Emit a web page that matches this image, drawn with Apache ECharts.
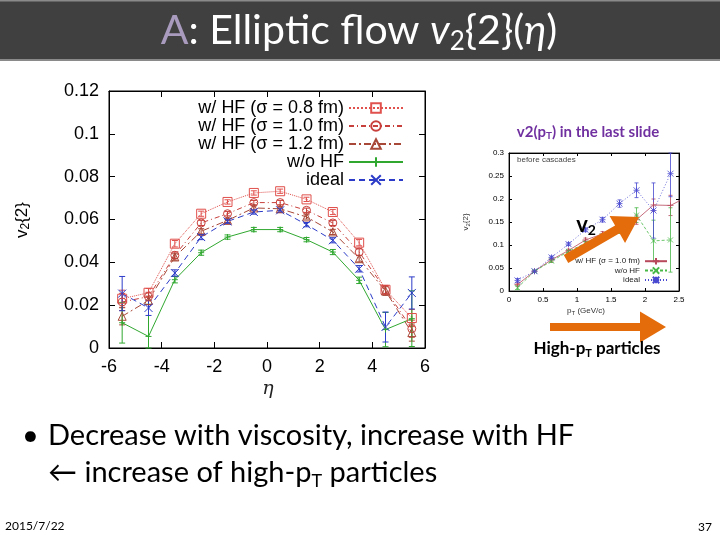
<!DOCTYPE html>
<html><head><meta charset="utf-8">
<script src="https://cdn.jsdelivr.net/npm/echarts@6/dist/echarts.min.js"></script>
<style>html,body{margin:0;padding:0;background:#fff}#c{width:720px;height:540px}</style>
</head><body><div id="c"></div>
<script>
// ---- main chart: v2{2} vs eta ----
const eta = [-5.5,-4.5,-3.5,-2.5,-1.5,-0.5,0.5,1.5,2.5,3.5,4.5,5.5];
const hf08   = [0.0230,0.0258,0.0487,0.0627,0.0682,0.0724,0.0732,0.0694,0.0635,0.0492,0.0272,0.0140];
const hf10   = [0.0215,0.0240,0.0433,0.0584,0.0627,0.0679,0.0679,0.0643,0.0584,0.0448,0.0272,0.0090];
const hf12   = [0.0148,0.0222,0.0425,0.0545,0.0596,0.0654,0.0650,0.0612,0.0542,0.0417,0.0266,0.0072];
const noHF   = [0.0118,0.0054,0.0319,0.0445,0.0518,0.0553,0.0553,0.0506,0.0448,0.0316,0.0086,0.0137];
const ideal  = [0.0254,0.0187,0.0350,0.0518,0.0591,0.0635,0.0643,0.0576,0.0503,0.0370,0.0098,0.0257];
const hf08Err  = [0.004,0.002,0.0015,0.0012,0.001,0.001,0.001,0.001,0.0012,0.0015,0.002,0.004];
const hf10Err  = [0.004,0.002,0.0015,0.0012,0.001,0.001,0.001,0.001,0.0012,0.0015,0.002,0.004];
const hf12Err  = [0.004,0.002,0.0015,0.0012,0.001,0.001,0.001,0.001,0.0012,0.0015,0.002,0.004];
const noHFErr  = [0.0095,0.015,0.0015,0.0012,0.001,0.001,0.001,0.001,0.0012,0.0015,0.008,0.013];
const idealErr = [0.008,0.0035,0.0015,0.0012,0.001,0.001,0.001,0.001,0.0012,0.0015,0.007,0.0075];
const mainNames = ['w/ HF (\u03c3 = 0.8 fm)','w/ HF (\u03c3 = 1.0 fm)','w/ HF (\u03c3 = 1.2 fm)','w/o HF','ideal'];
const etaTicks = {min:-6, max:6, step:2};
const v2Ticks = {min:0, max:0.12, step:0.02};

// ---- inset: v2(pT) ----
const pt = [0.125,0.375,0.625,0.875,1.125,1.375,1.625,1.875,2.125,2.375,2.625];
const inHF    = [0.014,0.043,0.068,0.088,0.111,0.124,0.137,0.155,0.187,0.186,0.205];
const inNoHF  = [0.007,0.043,0.065,0.086,0.104,0.119,0.133,0.165,0.109,0.111,null];
const inIdeal = [0.023,0.043,0.073,0.102,0.133,0.155,0.190,0.219,0.175,0.255,null];
const inHFErr    = [0.003,0.002,0.003,0.003,0.004,0.005,0.006,0.010,0.013,0.022,0];
const inNoHFErr  = [0.004,0.002,0.003,0.003,0.004,0.005,0.008,0.016,0.045,0.07,0];
const inIdealErr = [0.004,0.002,0.003,0.003,0.004,0.005,0.008,0.016,0.06,0.05,0];
const inNames = ['w/ HF (\u03c3 = 1.0 fm)','w/o HF','ideal'];
const ptTicks = {min:0, max:2.5, step:0.5};
const inV2Ticks = {min:0, max:0.3, step:0.05};

const FONT = 'Liberation Sans';
const SLIDE = 'Lato';

function pairs(xs, ys){ return xs.map((x,i)=>[x, ys[i]]); }
function errData(xs, ys, es){ return xs.map((x,i)=>[x, ys[i], es[i]]).filter(d=>d[1]!=null && d[2]>0); }
function errSeries(xi, yi, data, color, capW, yMax, lw){
  return {type:'custom', xAxisIndex:xi, yAxisIndex:yi, data:data, silent:true, z:3,
    renderItem:function(params, api){
      const x=api.value(0), y=api.value(1), e=api.value(2);
      const lo=api.coord([x, Math.max(0, y-e)]), hi=api.coord([x, Math.min(yMax, y+e)]);
      const st={stroke:color, lineWidth:lw};
      return {type:'group', children:[
        {type:'line', shape:{x1:lo[0],y1:lo[1],x2:hi[0],y2:hi[1]}, style:st},
        {type:'line', shape:{x1:lo[0]-capW,y1:lo[1],x2:lo[0]+capW,y2:lo[1]}, style:st},
        {type:'line', shape:{x1:hi[0]-capW,y1:hi[1],x2:hi[0]+capW,y2:hi[1]}, style:st}
      ]};
    }};
}
const X_PATH = 'path://M0,0L10,10M10,0L0,10';
const PLUS_PATH = 'path://M0,5L10,5M5,0L5,10';
const STAR_PATH = 'path://M0,0L10,10M10,0L0,10M0,5L10,5M5,0L5,10';

function arrowPts(x1,y1,x2,y2,sw,hl,hw){
  const dx=x2-x1, dy=y2-y1, L=Math.hypot(dx,dy), ux=dx/L, uy=dy/L, nx=-uy, ny=ux;
  const bx=x2-ux*hl, by=y2-uy*hl;
  return [[x1+nx*sw/2,y1+ny*sw/2],[bx+nx*sw/2,by+ny*sw/2],[bx+nx*hw/2,by+ny*hw/2],[x2,y2],
          [bx-nx*hw/2,by-ny*hw/2],[bx-nx*sw/2,by-ny*sw/2],[x1-nx*sw/2,y1-ny*sw/2]];
}

const C08='#e0504c', C10='#c8403c', C12='#a84838', CG='#30a830', CB='#2c3cc8';
const IC1='#b8485c', IC2='#48b848', IC3='#4848d0';

function axisPair(gi, pos, ticks, labels, fs, tickLen){
  return {type:'value', gridIndex:gi, position:pos, min:ticks.min, max:ticks.max, interval:ticks.step,
    axisLine:{show:true, onZero:false, lineStyle:{color:'#000', width:1}},
    axisTick:{show:true, inside:true, length:tickLen, lineStyle:{color:'#000'}},
    axisLabel:{show:labels, fontSize:fs, fontFamily:FONT, color:'#000', margin: fs>10?10:5},
    splitLine:{show:false}};
}

const mainSeriesDefs = [
  {name:mainNames[0], data:hf08, err:hf08Err, color:C08, lt:'dotted', sym:'rect', ss:9, hollow:true},
  {name:mainNames[1], data:hf10, err:hf10Err, color:C10, lt:[5,3,1,3], sym:'circle', ss:8, hollow:true},
  {name:mainNames[2], data:hf12, err:hf12Err, color:C12, lt:[7,3,2,3], sym:'triangle', ss:8, hollow:true},
  {name:mainNames[3], data:noHF, err:noHFErr, color:CG, lt:'solid', sym:PLUS_PATH, ss:6, hollow:false},
  {name:mainNames[4], data:ideal, err:idealErr, color:CB, lt:[6,4], sym:X_PATH, ss:8, hollow:false}
];
const inSeriesDefs = [
  {name:'in:'+inNames[0], data:inHF, err:inHFErr, color:IC1, lt:'solid', sym:PLUS_PATH, ss:6},
  {name:'in:'+inNames[1], data:inNoHF, err:inNoHFErr, color:IC2, lt:[3,2], sym:X_PATH, ss:5},
  {name:'in:'+inNames[2], data:inIdeal, err:inIdealErr, color:IC3, lt:[1,2], sym:STAR_PATH, ss:6}
];

const series = [];
mainSeriesDefs.forEach(d=>{
  series.push({type:'line', name:d.name, xAxisIndex:0, yAxisIndex:0, data:pairs(eta,d.data),
    symbol:d.sym, symbolSize:d.ss, showAllSymbol:true, z:4,
    lineStyle:{color:d.color, width:1, type:d.lt},
    itemStyle:{color:d.hollow?'rgba(255,255,255,0)':d.color, borderColor:d.color, borderWidth:1}});
  series.push(errSeries(0,0,errData(eta,d.data,d.err), d.color, 3, v2Ticks.max, 1));
});
inSeriesDefs.forEach(d=>{
  series.push({type:'line', name:d.name, xAxisIndex:2, yAxisIndex:2, data:pairs(pt,d.data),
    symbol:d.sym, symbolSize:d.ss, showAllSymbol:true, connectNulls:false, z:4, clip:true,
    lineStyle:{color:d.color, width:0.8, type:d.lt},
    itemStyle:{color:d.color, borderColor:d.color, borderWidth:0.8}});
  series.push(errSeries(2,2,errData(pt,d.data,d.err), d.color, 2, inV2Ticks.max, 0.8));
});

const arrowColor = '#e46c0a';
const TS = 41;
const graphics = [
  {type:'rect', shape:{x:0,y:0,width:720,height:61}, style:{fill:'#404040'}, z:1},
  {type:'rect', shape:{x:0,y:59,width:720,height:2}, style:{fill:'#8a8a8a'}, z:1},
  {type:'rect', shape:{x:0,y:0,width:720,height:1.5}, style:{fill:'#8a8a8a'}, z:1},
  {type:'text', x:359, y:31, z:2, style:{
    text:'{A|A}{w|: Ellip}{w|tic flow }{i|v}{s|2}{2}({i|\u03b7})',
    align:'center', verticalAlign:'middle', textAlign:'center', textVerticalAlign:'middle',
    fill:'#fff', fontSize:TS, fontFamily:SLIDE, lineHeight:48,
    rich:{A:{fill:'#a99bbd',fontSize:TS,fontFamily:SLIDE,lineHeight:48},
          w:{fill:'#fff',fontSize:TS,fontFamily:SLIDE,lineHeight:48},
          i:{fill:'#fff',fontSize:TS,fontFamily:SLIDE,fontStyle:'italic',lineHeight:48},
          s:{fill:'#fff',fontSize:26,fontFamily:SLIDE,lineHeight:24,verticalAlign:'bottom'}}}},
  // main axis titles
  {type:'text', x:22, y:220, rotation:Math.PI/2, z:5, style:{
    text:'{a|v}{s|2}{2}', align:'center', verticalAlign:'middle', textAlign:'center', textVerticalAlign:'middle',
    fill:'#000', fontSize:17, fontFamily:FONT, lineHeight:20,
    rich:{a:{fontSize:17,fontFamily:FONT,fill:'#000',lineHeight:20}, s:{fontSize:12,fontFamily:FONT,fill:'#000',lineHeight:12,verticalAlign:'bottom'}}}},
  {type:'text', x:268, y:389, z:5, style:{text:'\u03b7', align:'center', verticalAlign:'middle', textAlign:'center', textVerticalAlign:'middle', fill:'#222', fontSize:19, fontFamily:'DejaVu Serif', fontStyle:'italic'}},
  // inset labels
  {type:'text', x:588, y:132, z:5, style:{
    text:'{b|v2(p}{s|T}{b|) in the last slide}', align:'center', verticalAlign:'middle', textAlign:'center', textVerticalAlign:'middle',
    fill:'#7030a0', fontSize:15, fontWeight:'bold', fontFamily:SLIDE,
    rich:{b:{fontSize:15,fontWeight:'bold',fontFamily:SLIDE,fill:'#7030a0',lineHeight:18}, s:{fontSize:10,fontWeight:'bold',fontFamily:SLIDE,fill:'#7030a0',lineHeight:10,verticalAlign:'bottom'}}}},
  {type:'text', x:517, y:160, z:5, style:{text:'before cascades', verticalAlign:'middle', textVerticalAlign:'middle', fill:'#444', fontSize:8, fontFamily:FONT}},
  {type:'text', x:466, y:222, rotation:Math.PI/2, z:5, style:{
    text:'{a|v}{s|2}{2}', align:'center', verticalAlign:'middle', textAlign:'center', textVerticalAlign:'middle',
    fill:'#333', fontSize:8, fontFamily:FONT, lineHeight:10,
    rich:{a:{fontSize:8,fontFamily:FONT,fill:'#333',lineHeight:10}, s:{fontSize:6,fontFamily:FONT,fill:'#333',lineHeight:6,verticalAlign:'bottom'}}}},
  {type:'text', x:586, y:311, z:5, style:{
    text:'{a|p}{s|T}{a| (GeV/c)}', align:'center', verticalAlign:'middle', textAlign:'center', textVerticalAlign:'middle',
    fill:'#333', fontSize:8, fontFamily:FONT,
    rich:{a:{fontSize:8,fontFamily:FONT,fill:'#333',lineHeight:10}, s:{fontSize:6,fontFamily:FONT,fill:'#333',lineHeight:6,verticalAlign:'bottom'}}}},
  // arrows
  {type:'polygon', z:50, shape:{points:arrowPts(566,259,639,217,9,25,31)}, style:{fill:arrowColor}},
  {type:'polygon', z:50, shape:{points:arrowPts(550,327,666,327,8,26,31)}, style:{fill:arrowColor}},
  {type:'text', x:586, y:225, z:51, style:{
    text:'{v|v}{s|2}', align:'center', verticalAlign:'middle', textAlign:'center', textVerticalAlign:'middle', fill:'#000',
    rich:{v:{fontSize:22,fontWeight:'bold',fontFamily:SLIDE,fill:'#000',lineHeight:24}, s:{fontSize:14,fontWeight:'bold',fontFamily:SLIDE,fill:'#000',lineHeight:14,verticalAlign:'bottom'}}}},
  {type:'text', x:597, y:349, z:51, style:{
    text:'{b|High-p}{s|T}{b| par}{b|ticles}', align:'center', verticalAlign:'middle', textAlign:'center', textVerticalAlign:'middle', fill:'#000',
    rich:{b:{fontSize:17,fontWeight:'bold',fontFamily:SLIDE,fill:'#000',lineHeight:20}, s:{fontSize:11,fontWeight:'bold',fontFamily:SLIDE,fill:'#000',lineHeight:11,verticalAlign:'bottom'}}}},
  // bullets
  {type:'text', x:22, y:436, z:5, style:{text:'\u2022', verticalAlign:'middle', textVerticalAlign:'middle', fill:'#000', fontSize:29, fontFamily:SLIDE}},
  {type:'text', x:48, y:436, z:5, style:{text:'Decrease with viscosity, increase with HF', verticalAlign:'middle', textVerticalAlign:'middle', fill:'#000', fontSize:29, fontFamily:SLIDE}},
  {type:'text', x:48, y:473, z:5, style:{
    text:'{a|\u2190 increase of high-p}{s|T}{a| par}{a|ticles}', verticalAlign:'middle', textVerticalAlign:'middle', fill:'#000',
    rich:{a:{fontSize:29,fontFamily:SLIDE,fill:'#000',lineHeight:34}, s:{fontSize:18,fontFamily:SLIDE,fill:'#000',lineHeight:16,verticalAlign:'bottom'}}}},
  // footer
  {type:'text', x:5, y:526, z:5, style:{text:'2015/7/22', verticalAlign:'middle', textVerticalAlign:'middle', fill:'#000', fontSize:12, fontFamily:SLIDE}},
  {type:'text', x:712, y:527, z:5, style:{text:'37', align:'right', textAlign:'right', verticalAlign:'middle', textVerticalAlign:'middle', fill:'#000', fontSize:12, fontFamily:SLIDE}}
];

const chart = echarts.init(document.getElementById('c'), null, {renderer:'canvas'});
chart.setOption({
  backgroundColor:'#fff',
  animation:false,
  grid:[
    {left:109, right:295, top:91, bottom:192, show:true, borderColor:'#000', borderWidth:1, backgroundColor:'transparent'},
    {left:509, right:41, top:153, bottom:249, show:true, borderColor:'#000', borderWidth:0.8, backgroundColor:'transparent'}
  ],
  xAxis:[
    axisPair(0,'bottom',etaTicks,true,18,6),
    axisPair(0,'top',etaTicks,false,18,6),
    axisPair(1,'bottom',ptTicks,true,8,3),
    axisPair(1,'top',ptTicks,false,8,3)
  ],
  yAxis:[
    axisPair(0,'left',v2Ticks,true,18,6),
    axisPair(0,'right',v2Ticks,false,18,6),
    axisPair(1,'left',inV2Ticks,true,8,3),
    axisPair(1,'right',inV2Ticks,false,8,3)
  ],
  legend:[
    {data:mainNames, orient:'vertical', align:'right', right:316, top:99, padding:0, itemGap:0,
     itemWidth:54, itemHeight:12, selectedMode:false,
     textStyle:{fontSize:18, lineHeight:18, fontFamily:FONT, color:'#000'}},
    {data:inSeriesDefs.map(d=>d.name), orient:'vertical', align:'right', right:52, top:257, padding:0, itemGap:1,
     itemWidth:22, itemHeight:8, selectedMode:false,
     formatter:n=>n.replace('in:',''),
     textStyle:{fontSize:8, fontFamily:FONT, color:'#222'}}
  ],
  series:series,
  graphic:graphics
});
</script></body></html>
